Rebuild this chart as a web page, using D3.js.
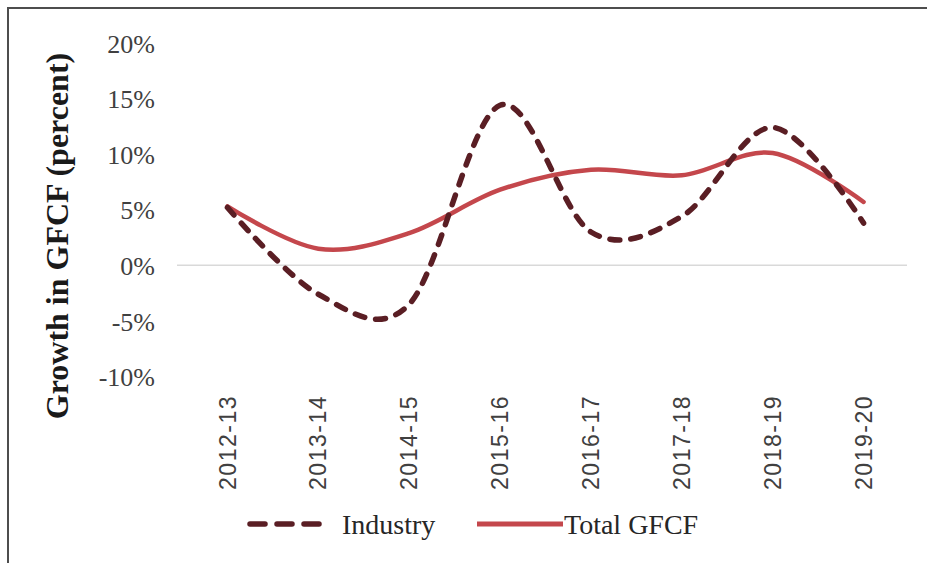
<!DOCTYPE html>
<html>
<head>
<meta charset="utf-8">
<script src="https://cdn.jsdelivr.net/npm/d3@7"></script>
<style>
  html, body { margin: 0; padding: 0; background: #fff; }
  svg { display: block; }
</style>
</head>
<body>
<svg id="chart" width="927" height="563"></svg>
<script>
const categories = ["2012-13", "2013-14", "2014-15", "2015-16", "2016-17", "2017-18", "2018-19", "2019-20"];
const industry = [5.2, -2.6, -3.5, 14.4, 3.0, 4.4, 12.4, 3.8];
const totalGFCF = [5.3, 1.5, 2.9, 6.8, 8.6, 8.1, 10.1, 5.7];
const yTicks = [-10, -5, 0, 5, 10, 15, 20];
const seriesNames = ["Industry", "Total GFCF"];

const svg = d3.select("#chart");
const W = 927, H = 563;

// frame
svg.append("path")
  .attr("d", `M8,${H} L8,8 L${W},8`)
  .attr("fill", "none")
  .attr("stroke", "#4d4d4d")
  .attr("stroke-width", 2);

const x = d3.scaleBand().domain(categories).range([182, 909]);
const y = d3.scaleLinear().domain([-10, 20]).range([376.5, 43]);

// zero gridline
svg.append("line")
  .attr("x1", 177).attr("x2", 907)
  .attr("y1", y(0)).attr("y2", y(0))
  .attr("stroke", "#d9d9d9").attr("stroke-width", 1.5);

// y axis labels
const yAxis = d3.axisLeft(y).tickValues(yTicks).tickFormat(d => d + "%").tickSize(0).tickPadding(0);
const yg = svg.append("g").attr("transform", "translate(155,0)").call(yAxis);
yg.select(".domain").remove();
yg.selectAll("text")
  .attr("font-family", "'Liberation Serif', 'Times New Roman', serif")
  .attr("font-size", 26)
  .attr("fill", "#404040")
  .attr("dy", "0.35em");

// x axis labels
const xAxis = d3.axisBottom(x).tickSize(0).tickPadding(0);
const xg = svg.append("g").attr("transform", "translate(0,395)").call(xAxis);
xg.select(".domain").remove();
xg.selectAll("text")
  .attr("font-family", "'Liberation Sans', Arial, sans-serif")
  .attr("font-size", 23)
  .attr("letter-spacing", "1.5px")
  .attr("fill", "#404040")
  .attr("text-anchor", "end")
  .attr("transform", "rotate(-90)")
  .attr("x", 0)
  .attr("y", 0)
  .attr("dy", "0.35em");

// y axis title
svg.append("text")
  .attr("transform", "translate(57,236) rotate(-90)")
  .attr("text-anchor", "middle")
  .attr("dy", "0.35em")
  .attr("font-family", "'Liberation Serif', 'Times New Roman', serif")
  .attr("font-weight", "bold")
  .attr("font-size", 32)
  .attr("fill", "#1a1a1a")
  .text("Growth in GFCF (percent)");

const line = d3.line()
  .x((d, i) => x(categories[i]) + x.bandwidth() / 2)
  .y(d => y(d))
  .curve(d3.curveCardinal.tension(0));

const gfcfColor = "#c4474c";
const indColor = "#5a1e24";

svg.append("path")
  .datum(totalGFCF)
  .attr("d", line)
  .attr("fill", "none")
  .attr("stroke", gfcfColor)
  .attr("stroke-width", 4.5)
  .attr("stroke-linecap", "round");

svg.append("path")
  .datum(industry)
  .attr("d", line)
  .attr("fill", "none")
  .attr("stroke", indColor)
  .attr("stroke-width", 5.5)
  .attr("stroke-linecap", "round")
  .attr("stroke-dasharray", "10,11");

// legend
const lg = svg.append("g");
lg.append("line")
  .attr("x1", 250).attr("x2", 327).attr("y1", 524).attr("y2", 524)
  .attr("stroke", indColor).attr("stroke-width", 5.5)
  .attr("stroke-linecap", "round").attr("stroke-dasharray", "15,12");
lg.append("text")
  .attr("x", 342).attr("y", 534)
  .attr("font-family", "'Liberation Serif', 'Times New Roman', serif")
  .attr("font-size", 28).attr("fill", "#262626")
  .text(seriesNames[0]);
lg.append("line")
  .attr("x1", 477).attr("x2", 563).attr("y1", 524).attr("y2", 524)
  .attr("stroke", gfcfColor).attr("stroke-width", 5);
lg.append("text")
  .attr("x", 564).attr("y", 534)
  .attr("font-family", "'Liberation Serif', 'Times New Roman', serif")
  .attr("font-size", 28).attr("fill", "#262626")
  .text(seriesNames[1]);
</script>
</body>
</html>
